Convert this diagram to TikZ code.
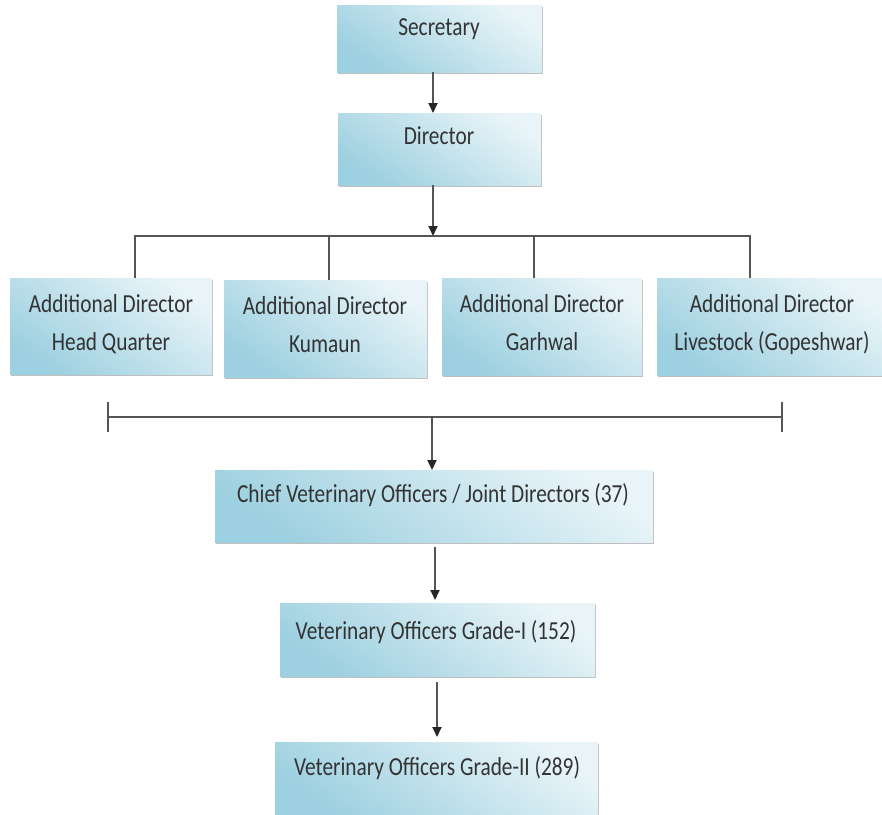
\documentclass[tikz,border=0pt]{standalone}
\usepackage{fontspec}
\setmainfont{Carlito}
\usepackage{graphicx}
\usetikzlibrary{shadows,arrows.meta}
\definecolor{boxdark}{HTML}{9DD0E0}
\definecolor{boxlight}{HTML}{E8F4F8}
\definecolor{txtcol}{HTML}{333333}
\definecolor{lncol}{HTML}{555555}
\newcommand{\sqz}[1]{\scalebox{0.82}[1]{\begin{tabular}{@{}c@{}}#1\end{tabular}}}
\begin{document}
\begin{tikzpicture}[x=1pt,y=-1pt,
  box/.style={draw=none, inner sep=0pt, outer sep=0pt,
    bottom color=boxdark, top color=boxlight, shading angle=-35,
    drop shadow={shadow xshift=0.8pt, shadow yshift=-2pt, fill=black, opacity=0.25}},
  lbl/.style={font=\fontsize{26}{38}\selectfont, text=txtcol, inner sep=0pt},
  conn/.style={draw=lncol, line width=1.8pt},
  arr/.style={conn, -{Triangle[length=10pt,width=9pt,color=black!85]}}]
\useasboundingbox (0,0) rectangle (882,814);
% boxes
\node[box, minimum width=205pt, minimum height=67pt] (sec) at (439.5,38.5) {};
\node[box, minimum width=203pt, minimum height=72pt] (dir) at (439.5,149) {};
\node[box, minimum width=202pt, minimum height=96pt] (ad1) at (111,326) {};
\node[box, minimum width=203pt, minimum height=97pt] (ad2) at (325.5,328.5) {};
\node[box, minimum width=200pt, minimum height=97pt] (ad3) at (542,326.5) {};
\node[box, minimum width=225pt, minimum height=97pt] (ad4) at (769.5,326.5) {};
\node[box, minimum width=438pt, minimum height=72pt] (chief) at (434,506) {};
\node[box, minimum width=315pt, minimum height=73pt] (vo1) at (437.5,639.5) {};
\node[box, minimum width=323pt, minimum height=72pt] (vo2) at (436.5,778) {};
% texts
\node[lbl] (secT) at (439,28) {\sqz{Secretary}};
\node[lbl] (dirT) at (439,137) {\sqz{Director}};
\node[lbl] (ad1T) at (111,324) {\sqz{Additional Director\\Head Quarter}};
\node[lbl] (ad2T) at (325,326) {\sqz{Additional Director\\Kumaun}};
\node[lbl] (ad3T) at (542,324) {\sqz{Additional Director\\Garhwal}};
\node[lbl] (ad4T) at (772,324) {\sqz{Additional Director\\Livestock (Gopeshwar)}};
\node[lbl] (chiefT) at (433,495) {\sqz{Chief Veterinary Officers / Joint Directors (37)}};
\node[lbl] (vo1T) at (436,632) {\sqz{Veterinary Officers Grade-I (152)}};
\node[lbl] (vo2T) at (437,768) {\sqz{Veterinary Officers Grade-II (289)}};
% coordinates
\coordinate (a1) at (433,0);
\coordinate (b1) at (433,236);
\coordinate (b1L) at (135,236);
\coordinate (b1R) at (750,236);
\coordinate (d2) at (329,236);
\coordinate (d3) at (534,236);
\coordinate (b2) at (432,417);
\coordinate (b2L) at (108,417);
\coordinate (b2R) at (782,417);
\coordinate (c1) at (435,0);
\coordinate (c2) at (437,0);
% connectors
\draw[arr] (sec.south -| a1) -- (dir.north -| a1);
\draw[arr] (dir.south -| b1) -- (b1);
\draw[conn] (b1L |- ad1.north) -- (b1L) -- (b1R) -- (b1R |- ad4.north);
\draw[conn] (d2) -- (d2 |- ad2.north);
\draw[conn] (d3) -- (d3 |- ad3.north);
\draw[conn] (b2L) -- (b2R);
\draw[conn] (b2L) ++(0,-15) -- ++(0,30);
\draw[conn] (b2R) ++(0,-15) -- ++(0,30);
\draw[arr] (b2) -- (b2 |- chief.north);
\draw[arr, shorten <=5pt, shorten >=3pt] (chief.south -| c1) -- (vo1.north -| c1);
\draw[arr, shorten <=6pt, shorten >=5pt] (vo1.south -| c2) -- (vo2.north -| c2);
\end{tikzpicture}
\end{document}
